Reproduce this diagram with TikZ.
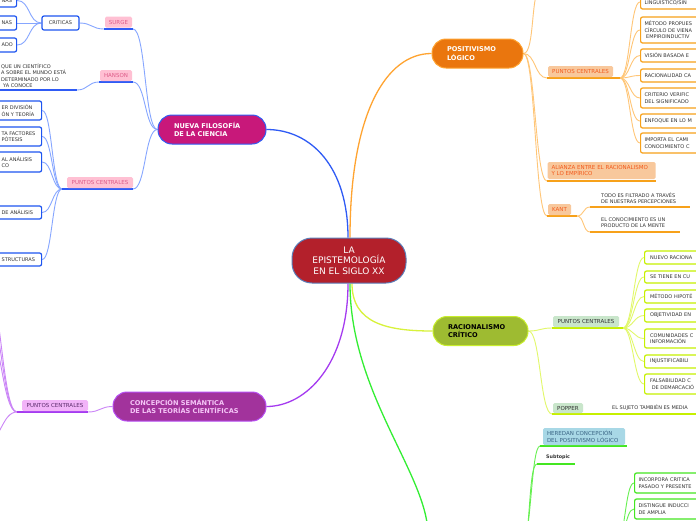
\documentclass[tikz,border=0pt]{standalone}
\usepackage{fontspec}
\setmainfont{DejaVu Sans}
\usetikzlibrary{calc}
\pgfdeclarelayer{bg}
\pgfsetlayers{bg,main}
\definecolor{txt}{HTML}{333333}
\definecolor{cred}{HTML}{B3202B}
\definecolor{credb}{HTML}{5B7DB8}
\definecolor{nfill}{HTML}{C8187A}
\definecolor{bmain}{HTML}{2F5BF5}
\definecolor{blink}{HTML}{86A6FF}
\definecolor{bbord}{HTML}{1E55F0}
\definecolor{pkfill}{HTML}{FFC0D3}
\definecolor{pktext}{HTML}{DD5A88}
\definecolor{ofill}{HTML}{EA760E}
\definecolor{omain}{HTML}{FFA431}
\definecolor{olink}{HTML}{FFC677}
\definecolor{obord}{HTML}{F7A11A}
\definecolor{olfill}{HTML}{F8C89C}
\definecolor{oltext}{HTML}{F25A1C}
\definecolor{rfill}{HTML}{9EBB31}
\definecolor{rbord}{HTML}{C8EE2C}
\definecolor{rmain}{HTML}{D8F23C}
\definecolor{rlink}{HTML}{E2F86A}
\definecolor{rboxc}{HTML}{C6F000}
\definecolor{rlfill}{HTML}{C9E6CB}
\definecolor{gmain}{HTML}{33EE33}
\definecolor{glink}{HTML}{66F050}
\definecolor{gbord}{HTML}{44E621}
\definecolor{hfill}{HTML}{A8D8E6}
\definecolor{htext}{HTML}{3A6585}
\definecolor{pfill}{HTML}{A2339C}
\definecolor{pbord}{HTML}{B64EF2}
\definecolor{ptext}{HTML}{F5C6F7}
\definecolor{pmain}{HTML}{A53BF0}
\definecolor{plink}{HTML}{CB85F7}
\definecolor{plfill}{HTML}{F2B4F8}
\definecolor{pltext}{HTML}{5A2A6A}
\newcommand\lcut[1]{\hspace*{38pt}\mbox{#1}}
\tikzset{
  ctext/.style={font=\fontsize{5}{6.5}\selectfont, text=txt},
  ltext/.style={font=\fontsize{5.5}{6.5}\selectfont},
  pill/.style={line width=1, font=\bfseries\fontsize{6.6}{8.6}\selectfont, align=left, inner ysep=0, minimum height=29, rounded corners=14},
  lab/.style={ltext, rounded corners=1.5, inner xsep=0, inner ysep=0, minimum height=11, align=left},
  cbox/.style={ctext, fill=white, line width=1.2, rounded corners=2, inner xsep=3, inner ysep=1, align=left},
  lbox/.style={cbox, draw=bbord, anchor=west, text width=#1},
  rbox/.style={cbox, anchor=west, text width=90, inner xsep=#1},
  tnode/.style={ctext, anchor=west, align=left, inner sep=0},
  ul/.style={line width=1.3},
  lk/.style={line width=0.9},
  sr/.style={out=0, in=180, distance=#1pt},
}
\begin{document}
\begin{tikzpicture}[x=1pt,y=-1pt]
\useasboundingbox (0,0) rectangle (696,520);

% ---------- centre and main topics
\node[draw=credb, fill=cred, text=white, line width=1, rounded corners=20, minimum width=114, minimum height=45, align=center, font=\fontsize{9}{10.7}\selectfont, inner sep=0] (ctr) at (349,260.5) {LA\\EPISTEMOLOGÍA\\EN EL SIGLO XX};
\node[pill, fill=nfill, draw=bmain, text=white, inner xsep=16, text width=76] (nf) at (212,129.5) {\mbox{NUEVA FILOSOFÍA}\\\mbox{DE LA CIENCIA}};
\node[pill, fill=ofill, draw=omain, text=white, inner xsep=15, text width=61] (pl) at (477.5,53.5) {\mbox{POSITIVISMO}\\\mbox{LÓGICO}};
\node[pill, fill=rfill, draw=rbord, text=black, inner xsep=15, text width=65] (rc) at (480.5,331) {\mbox{RACIONALISMO}\\\mbox{CRÍTICO}};
\node[pill, fill=pfill, draw=pbord, text=ptext, inner xsep=17, text width=119] (cs) at (189.5,406.5) {\mbox{CONCEPCIÓN SEMÁNTICA}\\\mbox{DE LAS TEORÍAS CIENTÍFICAS}};

% ---------- blue branch (Nueva filosofia)
\node[lab, fill=pkfill, text=pktext, minimum width=27] (surge) at (118.5,22) {SURGE};
\coordinate (surgeL) at (104,29); \coordinate (surgeR) at (133,29);
\node[lab, fill=pkfill, text=pktext, minimum width=32] (hanson) at (116,75.5) {HANSON};
\coordinate (hanL) at (99,82); \coordinate (hanR) at (133,82);
\node[lab, fill=pkfill, text=pktext, minimum width=66] (pcN) at (100,182.5) {PUNTOS CENTRALES};
\coordinate (pcNL) at (62,189); \coordinate (pcNR) at (133,189);

\node[cbox, draw=bbord, align=center, minimum width=37, minimum height=14, inner xsep=0] (cr) at (60.5,23) {CRITICAS};
\node[lbox=50, minimum height=13] (cA) at (-40,0.5) {\lcut{NAS}};
\node[lbox=50, minimum height=14] (cB) at (-40,23) {\lcut{NAS}};
\node[lbox=50, minimum height=14] (cC) at (-40,45) {\lcut{ADO}};

\node[tnode] (ht) at (1,75.5) {QUE UN CIENTÍFICO\\A SOBRE EL MUNDO ESTÁ\\DETERMINADO POR LO\\\hspace*{2pt}YA CONOCE};
\coordinate (htL) at (-5,90); \coordinate (htR) at (77,90);

\node[lbox=75, minimum height=19] (b1) at (-40,110.5) {\lcut{ER DIVISIÓN}\\\lcut{ÓN Y TEORÍA}};
\node[lbox=75, minimum height=19] (b2) at (-40,136.5) {\lcut{TA FACTORES}\\\lcut{PÓTESIS}};
\node[lbox=75, minimum height=20] (b3) at (-40,162) {\lcut{AL ANÁLISIS}\\\lcut{CO}};
\node[lbox=75, minimum height=13] (b4) at (-40,212.5) {\lcut{DE ANÁLISIS}};
\node[lbox=75, minimum height=13] (b5) at (-40,259.5) {\lcut{STRUCTURAS}};

% ---------- orange branch (Positivismo)
\node[lab, fill=olfill, text=oltext, minimum width=65] (pcP) at (580.5,71.5) {PUNTOS CENTRALES};
\coordinate (pcPL) at (547,78); \coordinate (pcPR) at (620,78);
\node[lab, fill=olfill, text=oltext, minimum height=17, inner xsep=4, text width=100] (al) at (601.5,170.5) {ALIANZA ENTRE EL RACIONALISMO\\Y LO EMPÍRICO};
\coordinate (alL) at (547,181); \coordinate (alR) at (656,181);
\node[lab, fill=olfill, text=oltext, minimum width=23] (ka) at (559.5,209.5) {KANT};
\coordinate (kaL) at (547,216); \coordinate (kaR) at (577,216);
\coordinate (otop) at (542,-14);

\node[rbox=4, draw=obord, minimum height=14] (o1) at (640,2) {LINGÜÍSTICO/SIN};
\node[rbox=4, draw=obord, minimum height=26] (o2) at (640,30) {MÉTODO PROPUES\\CÍRCULO DE VIENA\\\hspace*{1.5pt}EMPIROINDUCTIV};
\node[rbox=4, draw=obord, minimum height=13] (o3) at (640,55.5) {VISIÓN BASADA E};
\node[rbox=4, draw=obord, minimum height=13] (o4) at (640,75.5) {RACIONALIDAD CA};
\node[rbox=4, draw=obord, minimum height=20] (o5) at (640,98) {CRITERIO VERIFIC\\DEL SIGNIFICADO};
\node[rbox=4, draw=obord, minimum height=14] (o6) at (640,121) {ENFOQUE EN LO M};
\node[rbox=4, draw=obord, minimum height=20] (o7) at (640,143) {IMPORTA EL CAMI\\CONOCIMIENTO C};

\node[tnode] (k1) at (601,198) {TODO ES FILTRADO A TRAVÉS\\DE NUESTRAS PERCEPCIONES};
\coordinate (k1L) at (590,207); \coordinate (k1R) at (690,207);
\node[tnode] (k2) at (601,222.5) {EL CONOCIMIENTO ES UN\\PRODUCTO DE LA MENTE};
\coordinate (k2L) at (590,232); \coordinate (k2R) at (680,232);

% ---------- yellow-green branch (Racionalismo)
\node[lab, fill=rlfill, text=txt, minimum width=66] (pcR) at (586,321.5) {PUNTOS CENTRALES};
\coordinate (pcRL) at (552,328); \coordinate (pcRR) at (623,328);
\node[lab, fill=rlfill, text=txt, minimum width=30, minimum height=10] (po) at (568,408) {POPPER};
\coordinate (poL) at (552,414); \coordinate (poR) at (583,414);
\node[tnode] (pt) at (612,408) {EL SUJETO TAMBIÉN ES MEDIA};
\coordinate (ptR) at (700,414);

\node[rbox=5.5, draw=rboxc, minimum height=13] (g1) at (644,257.5) {NUEVO RACIONA};
\node[rbox=5.5, draw=rboxc, minimum height=12] (g2) at (644,277) {SE TIENE EN CU};
\node[rbox=5.5, draw=rboxc, minimum height=13] (g3) at (644,296.5) {MÉTODO HIPOTÉ};
\node[rbox=5.5, draw=rboxc, minimum height=13] (g4) at (644,315.5) {OBJETIVIDAD EN};
\node[rbox=5.5, draw=rboxc, minimum height=19] (g5) at (644,338.5) {COMUNIDADES C\\INFORMACIÓN};
\node[rbox=5.5, draw=rboxc, minimum height=13] (g6) at (644,361.5) {INJUSTIFICABILI};
\node[rbox=5.5, draw=rboxc, minimum height=20] (g7) at (644,384) {FALSABILIDAD C\\\hspace*{1.7pt}DE DEMARCACIÓ};

% ---------- green branch
\coordinate (goff) at (428,535);
\node[lab, fill=hfill, text=htext, minimum height=17, inner xsep=4, text width=74] (he) at (584,436.5) {HEREDAN CONCEPCIÓN\\DEL POSITIVISMO LÓGICO};
\coordinate (heL) at (540,446); \coordinate (heR) at (627,446);
\node[tnode, font=\bfseries\fontsize{4.8}{6}\selectfont] (sub) at (546,457.5) {Subtopic};
\coordinate (suL) at (537,464); \coordinate (suR) at (575,464);
\coordinate (gs1) at (522,545);
\coordinate (gs2) at (616,545);
\node[rbox=4, draw=gbord, minimum height=20] (e1) at (634,483) {INCORPORA CRITICA\\PASADO Y PRESENTE};
\node[rbox=4, draw=gbord, minimum height=20] (e2) at (634,509) {DISTINGUE INDUCCI\\DE AMPLIA};

% ---------- purple branch
\node[lab, fill=plfill, text=pltext, minimum width=66] (pcC) at (55,405.5) {PUNTOS CENTRALES};
\coordinate (pcCL) at (17,412); \coordinate (pcCR) at (88,412);
\coordinate (pA) at (-14,283);
\coordinate (pB) at (-14,304);
\coordinate (pC) at (-14,326);
\coordinate (pD) at (-14,442);

% ---------- connectors
\begin{pgfonlayer}{bg}
\fill[white] (0,0) rectangle (696,520);
\draw[bmain, line width=1.3] ([xshift=-1pt]ctr.north) .. controls ($(ctr.north)+(-1,-70)$) and ($(nf.east)+(45,0)$) .. (nf.east);
\draw[omain, line width=1.3] ([xshift=1pt]ctr.north) .. controls ($(ctr.north)+(1,-125)$) and ($(pl.west)+(-45,0)$) .. (pl.west);
\draw[rmain, line width=1.3] ([xshift=3pt]ctr.south) .. controls ($(ctr.south)+(3,40)$) and ($(rc.west)+(-45,0)$) .. (rc.west);
\draw[pmain, line width=1.3] ([xshift=-1pt]ctr.south) .. controls ($(ctr.south)+(-1,80)$) and ($(cs.east)+(40,0)$) .. (cs.east);
\draw[gmain, line width=1.3] ([xshift=1pt]ctr.south) .. controls ($(ctr.south)+(1,110)$) and ($(goff)+(0,-60)$) .. (goff);

% blue
\draw[blink, lk] (surgeR) to[sr=13] (nf.west);
\draw[blink, lk] (hanR) to[sr=13] (nf.west);
\draw[blink, lk] (pcNR) to[sr=13] (nf.west);
\draw[blink, lk] (cr.east) to[sr=12] (surgeL);
\draw[blink, lk] (cA.east) to[sr=13] (cr.west);
\draw[blink, lk] (cB.east) to[sr=13] (cr.west);
\draw[blink, lk] (cC.east) to[sr=13] (cr.west);
\draw[blink, lk] (htR) to[sr=11] (hanL);
\foreach \b in {b1,b2,b3,b4,b5} \draw[blink, lk] (\b.east) to[sr=10] (pcNL);
\draw[bmain, ul] (surgeL) -- (surgeR);
\draw[bmain, ul] (hanL) -- (hanR);
\draw[bmain, ul] (pcNL) -- (pcNR);
\draw[bmain, ul] (htL) -- (htR);

% orange
\draw[olink, lk] (pl.east) to[sr=12] (otop);
\draw[olink, lk] (pl.east) to[sr=12] (pcPL);
\draw[olink, lk] (pl.east) to[sr=12] (alL);
\draw[olink, lk] (pl.east) to[sr=12] (kaL);
\foreach \o in {o1,o2,o3,o4,o5,o6,o7} \draw[olink, lk] (pcPR) to[sr=10] (\o.west);
\draw[olink, lk] (kaR) to[sr=7] (k1L);
\draw[olink, lk] (kaR) to[sr=7] (k2L);
\draw[obord, ul] (pcPL) -- (pcPR);
\draw[obord, ul] (alL) -- (alR);
\draw[obord, ul] (kaL) -- (kaR);
\draw[obord, ul] (k1L) -- (k1R);
\draw[obord, ul] (k2L) -- (k2R);

% yellow-green
\draw[rlink, lk] (rc.east) to[sr=12] (pcRL);
\draw[rlink, lk] (rc.east) to[sr=12] (poL);
\foreach \g in {g1,g2,g3,g4,g5,g6,g7} \draw[rlink, lk] (pcRR) to[sr=10] (\g.west);
\draw[rboxc, ul] (pcRL) -- (pcRR);
\draw[rboxc, ul] (poL) -- (poR);
\draw[rboxc, ul] (poR) -- (ptR);

% green
\draw[glink, lk] (gs1) to[sr=9] (heL);
\draw[glink, lk] (gs1) to[sr=9] (suL);
\draw[glink, lk] (gs2) to[sr=9] (e1.west);
\draw[glink, lk] (gs2) to[sr=9] (e2.west);
\draw[gbord, ul] (heL) -- (heR);
\draw[gbord, ul] (suL) -- (suR);

% purple
\draw[plink, lk] (pcCR) to[sr=12] (cs.west);
\foreach \p in {pA,pB,pC,pD} \draw[plink, lk] (\p) to[sr=15] (pcCL);
\draw[pmain, ul] (pcCL) -- (pcCR);
\end{pgfonlayer}
\end{tikzpicture}
\end{document}
